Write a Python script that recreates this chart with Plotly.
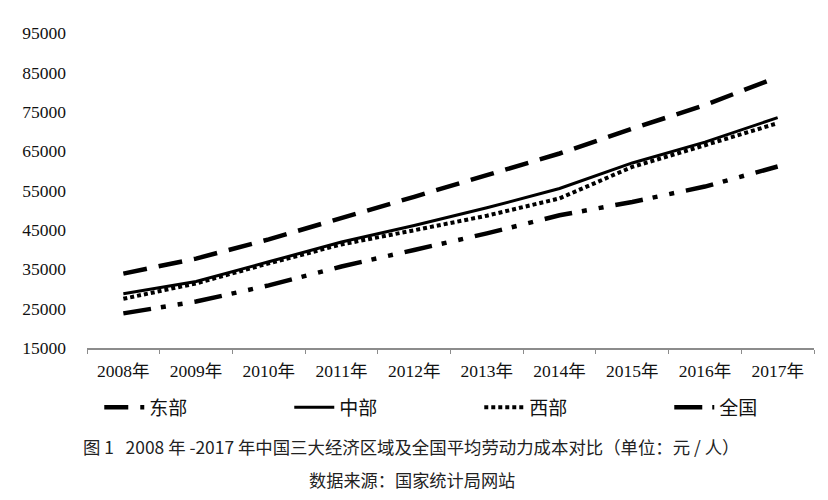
import plotly.graph_objects as go

years = ["2008年", "2009年", "2010年", "2011年", "2012年",
         "2013年", "2014年", "2015年", "2016年", "2017年"]

# 平均劳动力成本（元/人）
east = [33900, 37700, 42600, 47900, 53400, 58900, 64400, 70700, 76700, 83800]
central = [28800, 31900, 36900, 41900, 46100, 50600, 55500, 62000, 67300, 73500]
west = [27500, 31400, 36500, 41300, 44900, 48600, 53000, 61000, 66500, 72100]
nation = [23800, 26800, 30900, 35700, 39900, 44100, 48700, 52100, 56000, 61100]

y_ticks = [15000, 25000, 35000, 45000, 55000, 65000, 75000, 85000, 95000]

serif = "Liberation Serif, Times New Roman, Noto Sans CJK SC"
sans = "Noto Sans CJK SC, Noto Sans"

fig = go.Figure()
fig.add_trace(go.Scatter(x=years, y=east, name="东部", mode="lines",
                         line=dict(color="black", width=4.5, dash="24px,12px")))
fig.add_trace(go.Scatter(x=years, y=central, name="中部", mode="lines",
                         line=dict(color="black", width=3)))
fig.add_trace(go.Scatter(x=years, y=west, name="西部", mode="lines",
                         line=dict(color="black", width=4, dash="4px,3px")))
fig.add_trace(go.Scatter(x=years, y=nation, name="全国", mode="lines",
                         line=dict(color="black", width=4.5,
                                   dash="28px,10px,5px,12px,5px,12px")))

# 页面 body 自带 8px 边距，这里把边距减掉
fig.update_layout(
    width=828, height=500,
    margin=dict(l=79, r=22, t=25, b=160, autoexpand=False),
    paper_bgcolor="white", plot_bgcolor="white",
    showlegend=True,
    legend=dict(orientation="h", x=-0.001, y=-0.128, xanchor="left", yanchor="top",
                font=dict(family=sans, size=19, color="#111"),
                entrywidth=122, itemwidth=40, indentation=13, traceorder="normal"),
    xaxis=dict(
        type="category", range=[-0.5, 9.5], showgrid=False, showline=True,
        linecolor="#8c8c8c", linewidth=1.5, ticks="outside", ticklen=4,
        tickcolor="#8c8c8c", tickson="boundaries", ticklabelstandoff=6,
        automargin=False,
        tickfont=dict(family=serif, size=17.5, color="#111"),
    ),
    yaxis=dict(
        range=[15000, 95000], tickvals=y_ticks, tickformat="d", showgrid=False,
        showline=False, zeroline=False, ticks="", ticklabelstandoff=20,
        automargin=False,
        tickfont=dict(family=serif, size=17.5, color="#111"),
    ),
    annotations=[
        dict(text="图 1   2008 年 -2017 年中国三大经济区域及全国平均劳动力成本对比（单位：元 / 人）",
             xref="paper", yref="paper", x=0.447, y=-0.314, xanchor="center", yanchor="middle",
             showarrow=False, font=dict(family=sans, size=17.4, color="#222")),
        dict(text="数据来源：国家统计局网站",
             xref="paper", yref="paper", x=0.447, y=-0.416, xanchor="center", yanchor="middle",
             showarrow=False, font=dict(family=sans, size=17.2, color="#222")),
    ],
)

fig.write_html("out.html")
